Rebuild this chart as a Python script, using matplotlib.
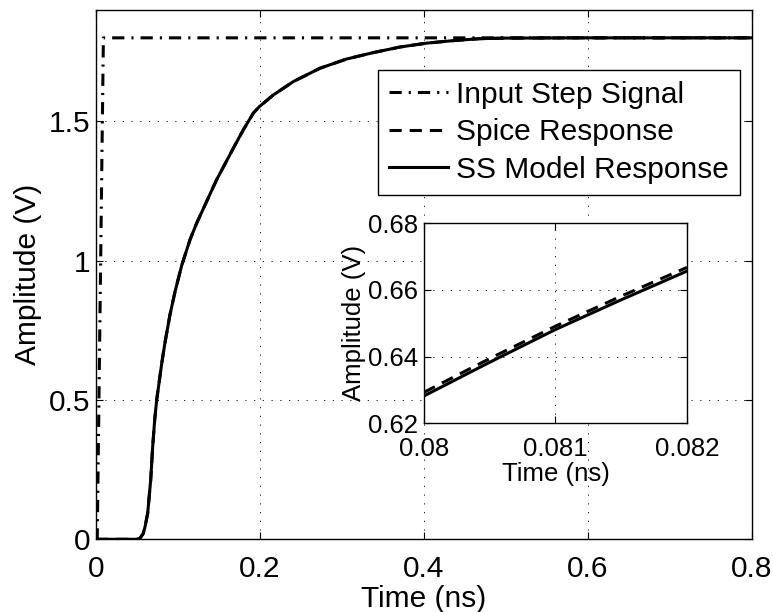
import matplotlib
matplotlib.use("Agg")
import matplotlib.pyplot as plt

plt.rcParams['font.family'] = ['Liberation Sans', 'DejaVu Sans']

# step input (ns, V)
step_t = [0.0, 0.0015, 0.009, 0.8]
step_v = [0.0, 0.0, 1.8, 1.8]

# responses (ns, V)
time_ns = [0.0, 0.05, 0.0537, 0.0575, 0.0598, 0.063, 0.0667, 0.0691, 0.0716, 0.074,
           0.078, 0.08, 0.082, 0.0841, 0.0902, 0.0963, 0.1045, 0.1146, 0.1228, 0.147,
           0.1675, 0.1797, 0.1919, 0.1992, 0.2163, 0.2407, 0.2732, 0.3057, 0.3382, 0.3707,
           0.4033, 0.4357, 0.468, 0.5, 0.6, 0.7, 0.8]
ss_v = [0.0, 0.0, 0.004, 0.02, 0.045, 0.093, 0.213, 0.332, 0.43, 0.5,
        0.585, 0.628, 0.666, 0.705, 0.806, 0.888, 0.983, 1.075, 1.135, 1.29,
        1.404, 1.470, 1.530, 1.553, 1.595, 1.643, 1.691, 1.724, 1.747, 1.767,
        1.781, 1.790, 1.797, 1.799, 1.8, 1.8, 1.8]
spice_v = [0.0, 0.0, 0.004, 0.02, 0.045, 0.093, 0.213, 0.332, 0.43, 0.5,
           0.586, 0.6293, 0.6667, 0.706, 0.806, 0.888, 0.983, 1.075, 1.135, 1.29,
           1.404, 1.470, 1.530, 1.553, 1.595, 1.643, 1.691, 1.724, 1.747, 1.767,
           1.781, 1.790, 1.797, 1.799, 1.8, 1.8, 1.8]

# zoomed window
inset_t = [0.08, 0.0805, 0.081, 0.0815, 0.082]
inset_ss = [0.6282, 0.6383, 0.6481, 0.6570, 0.6656]
inset_spice = [0.6293, 0.6394, 0.6491, 0.6581, 0.6667]

main_xticks = [0, 0.2, 0.4, 0.6, 0.8]
main_xlabels = ["0", "0.2", "0.4", "0.6", "0.8"]
main_yticks = [0, 0.5, 1, 1.5]
main_ylabels = ["0", "0.5", "1", "1.5"]
inset_xticks = [0.08, 0.081, 0.082]
inset_xlabels = ["0.08", "0.081", "0.082"]
inset_yticks = [0.62, 0.64, 0.66, 0.68]
inset_ylabels = ["0.62", "0.64", "0.66", "0.68"]

FS = 21.5      # main axes text
FS_IN = 18.5   # inset text
LW = 2.2
dashdot = (0, (4, 2.3, 0.7, 2.3))
dashed = (0, (4, 2.6))
grid_style = dict(color="black", linewidth=0.6, linestyle=(0, (1.5, 9)))


def style_axes(ax, fs, xpad, ypad):
    ax.tick_params(direction="in", top=True, right=True, length=5, width=0.8,
                   labelsize=fs, colors="black")
    ax.tick_params(axis="x", pad=xpad)
    ax.tick_params(axis="y", pad=ypad)
    for s in ax.spines.values():
        s.set_linewidth(1.0)
    ax.grid(True, **grid_style)


fig = plt.figure(figsize=(7.73, 6.12), dpi=100)
ax = fig.add_axes([0.1242, 0.1188, 0.8486, 0.8649])

ax.plot(step_t, step_v, color="black", lw=LW, linestyle=dashdot, label="Input Step Signal")
ax.plot(time_ns, spice_v, color="black", lw=LW, linestyle=dashed, label="Spice Response")
ax.plot(time_ns, ss_v, color="black", lw=LW, linestyle="-", label="SS Model Response")

ax.set_xlim(0, 0.8)
ax.set_ylim(0, 1.9)
ax.set_xticks(main_xticks)
ax.set_xticklabels(main_xlabels)
ax.set_yticks(main_yticks)
ax.set_yticklabels(main_ylabels)
style_axes(ax, FS, 11, 4)
ax.set_xlabel("Time (ns)", fontsize=FS, labelpad=2)
ax.set_ylabel("Amplitude (V)", fontsize=FS, labelpad=5)

leg = ax.legend(loc="upper right", bbox_to_anchor=(0.9817, 0.8866), fontsize=FS,
                frameon=True, fancybox=False, framealpha=1, edgecolor="black",
                handlelength=2.0, handletextpad=0.27, labelspacing=0.32,
                borderpad=0.36, borderaxespad=0)
leg.get_frame().set_linewidth(1.0)

ins = fig.add_axes([0.5485, 0.3083, 0.3402, 0.3273])
ins.plot(inset_t, inset_spice, color="black", lw=LW, linestyle=dashed)
ins.plot(inset_t, inset_ss, color="black", lw=LW, linestyle="-")
ins.set_xlim(0.08, 0.082)
ins.set_ylim(0.62, 0.68)
ins.set_xticks(inset_xticks)
ins.set_xticklabels(inset_xlabels)
ins.set_yticks(inset_yticks)
ins.set_yticklabels(inset_ylabels)
style_axes(ins, FS_IN, 9.5, 4)
ins.set_xlabel("Time (ns)", fontsize=FS_IN, labelpad=1)
ins.set_ylabel("Amplitude (V)", fontsize=FS_IN, labelpad=2)

fig.savefig("out.png", dpi=100)
